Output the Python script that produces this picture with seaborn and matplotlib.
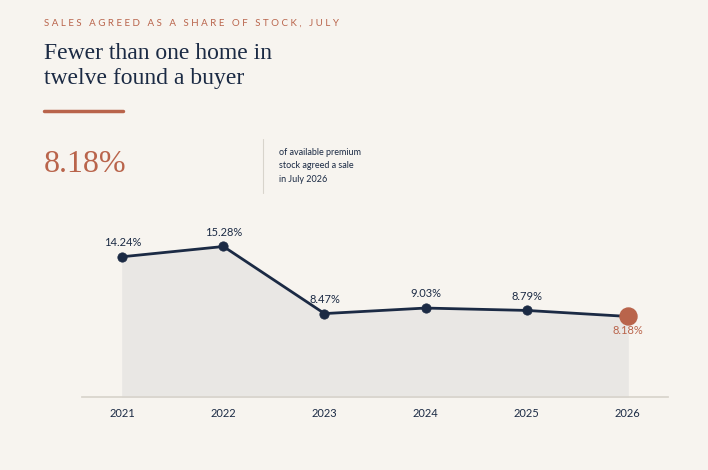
import matplotlib
matplotlib.use("Agg")
import matplotlib.pyplot as plt
import seaborn as sns
import pandas as pd

years = [2021, 2022, 2023, 2024, 2025, 2026]
shares = [14.24, 15.28, 8.47, 9.03, 8.79, 8.18]
labels = ["14.24%", "15.28%", "8.47%", "9.03%", "8.79%", "8.18%"]

bg = "#f7f4ef"; navy = "#1b2a44"; rust = "#b9644b"
sns.set_theme(style="white")
plt.rcParams['font.family'] = ['Lato', 'DejaVu Sans']

fig = plt.figure(figsize=(7.08, 4.70), dpi=100, facecolor=bg)
ax = fig.add_axes([82/708, 73/470, 586/708, 197/470], facecolor=bg)
df = pd.DataFrame({"year": years, "share": shares})
ax.fill_between(df.year, df.share, 0, color="#e9e7e4", zorder=1)
sns.lineplot(data=df, x="year", y="share", ax=ax, color=navy, lw=2, zorder=3)
sns.scatterplot(data=df.iloc[:-1], x="year", y="share", ax=ax, color=navy, s=45, zorder=4, edgecolor=navy)
ax.scatter([years[-1]], [shares[-1]], s=150, color=rust, zorder=5)
for i, (x, y, l) in enumerate(zip(years, shares, labels)):
    if i == len(years) - 1:
        ax.text(x, y - 0.9, l, ha="center", va="top", fontsize=8, color=rust)
    else:
        ax.text(x, y + 0.9, l, ha="center", va="bottom", fontsize=8, color=navy)
ax.set_xlim(2020.6, 2026.4); ax.set_ylim(0, 20)
ax.set_xticks(years); ax.set_xticklabels([str(y) for y in years], fontsize=8, color=navy)
ax.set_yticks([]); ax.set_xlabel(""); ax.set_ylabel("")
ax.tick_params(axis="x", length=0, pad=8)
for s in ["top", "right", "left"]:
    ax.spines[s].set_visible(False)
ax.spines["bottom"].set_color("#d8d4cc")

fig.text(44/708, 1-23/470, "S A L E S   A G R E E D   A S   A   S H A R E   O F   S T O C K ,   J U L Y",
         fontsize=7, color=rust, va="center")
fig.text(44/708, 1-66/470, "Fewer than one home in\ntwelve found a buyer", fontsize=17,
         color=navy, va="center", family=["Liberation Serif"], linespacing=1.25)
fig.add_artist(plt.Line2D([44/708, 123/708], [1-111/470]*2, color=rust, lw=2.5))
fig.text(44/708, 1-165/470, "8.18%", fontsize=23, color=rust, va="center", family=["Liberation Serif"])
fig.add_artist(plt.Line2D([263/708]*2, [1-139/470, 1-193/470], color="#d8d4cc", lw=0.8))
fig.text(279/708, 1-166/470, "of available premium\nstock agreed a sale\nin July 2026", fontsize=6.5,
         color=navy, va="center", linespacing=1.6)
fig.savefig("out.png", dpi=100, facecolor=bg)
